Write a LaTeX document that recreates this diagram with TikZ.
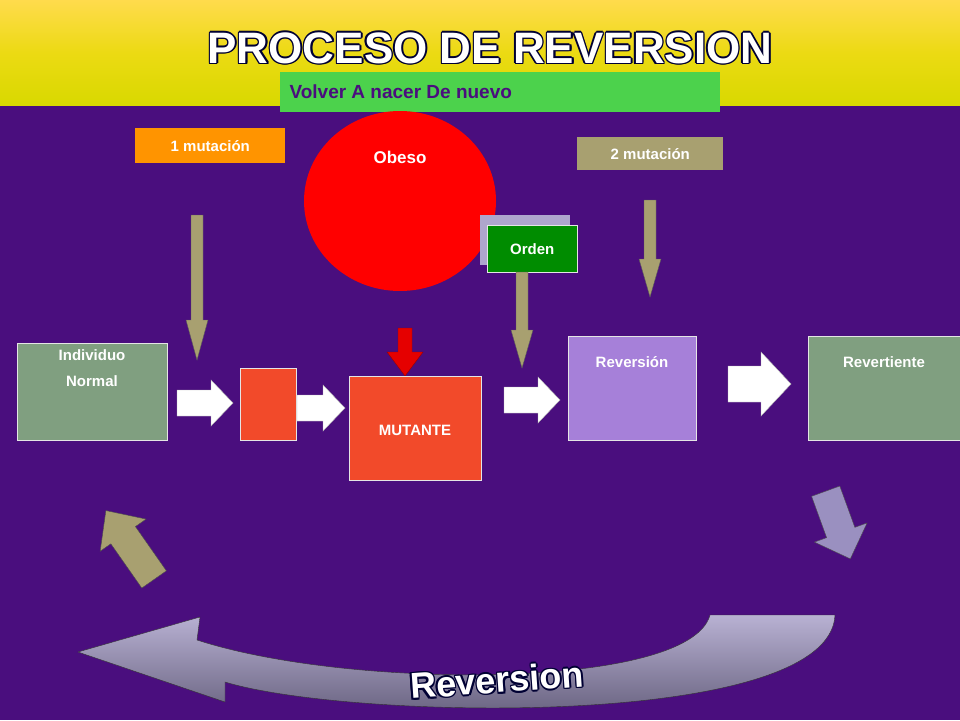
\documentclass[tikz,border=0pt]{standalone}
\usepackage{fontspec}
\setmainfont{Liberation Sans}
\usetikzlibrary{calc,shapes.geometric}
\definecolor{bgp}{HTML}{4A0E7E}
\definecolor{khaki}{HTML}{A8A070}
\definecolor{sage}{HTML}{809F80}
\definecolor{redb}{HTML}{F24A2A}
\definecolor{lav}{HTML}{9A90C0}
\tikzset{
 box/.style={draw=white!80!gray,line width=0.6pt,inner sep=0,anchor=north west},
 lbl/.style={font=\bfseries\fontsize{15}{18}\selectfont,text=white},
 warr/.style={draw=gray!60,fill=white},
 karr/.style={draw=gray!70!black,fill=khaki},
}
% right arrow: x0 x1 yc shaft-half head-half head-length
\newcommand{\rarr}[7]{\path[#7] (#1,#3-#4) -- (#2-#6,#3-#4) -- (#2-#6,#3-#5) -- (#2,#3) -- (#2-#6,#3+#5) -- (#2-#6,#3+#4) -- (#1,#3+#4) -- cycle;}
% down arrow: xc y0 y1 shaft-half head-half head-length
\newcommand{\darr}[7]{\path[#7] (#1-#4,#2) -- (#1+#4,#2) -- (#1+#4,#3-#6) -- (#1+#5,#3-#6) -- (#1,#3) -- (#1-#5,#3-#6) -- (#1-#4,#3-#6) -- cycle;}
\newcommand{\outl}[4]{%
 \foreach \dx/\dy in {-1.6/0,1.6/0,0/-1.6,0/1.6,-1.1/-1.1,1.1/1.1,-1.1/1.1,1.1/-1.1}
  {\node[text=black!80!blue,font=#3,#4] at ($(#1)+(\dx,\dy)$) {#2};}
 \node[text=white,font=#3,#4] at (#1) {#2};}
\begin{document}
\begin{tikzpicture}[x=1pt,y=-1pt]
\useasboundingbox (0,0) rectangle (960,720);
\fill[bgp] (0,0) rectangle (960,720);
\shade[top color=yellow!60!orange!70!white,bottom color=yellow!70!olive] (0,0) rectangle (960,105);
\coordinate (tt) at (490,48);
\outl{tt}{PROCESO DE REVERSION}{\bfseries\fontsize{44}{48}\selectfont}{}
\node[box,fill=green!75!black!70!white,draw=none,minimum width=440pt,minimum height=40pt] (volver) at (280,72) {};
\node[font=\bfseries\fontsize{19}{22}\selectfont,text=bgp,anchor=west] at (286,92) {Volver A nacer De nuevo};
\node[box,fill=orange!80!red!70!yellow,draw=none,minimum width=150pt,minimum height=35pt] (m1) at (135,128) {};
\node[lbl] at (m1.center) {1 mutación};
\node[fill=red,ellipse,minimum width=192pt,minimum height=180pt,inner sep=0] (obeso) at (400,201) {};
\node[lbl,font=\bfseries\fontsize{17}{20}\selectfont] at (400,157) {Obeso};
\node[box,fill=khaki,draw=none,minimum width=146pt,minimum height=33pt] (m2) at (577,137) {};
\node[lbl] at (m2.center) {2 mutación};
\fill[lav!80!white] (480,215) rectangle (570,265);
\node[box,fill=green!55!black,minimum width=90pt,minimum height=47pt] (orden) at (487,225) {};
\node[lbl] at (orden.center) {Orden};
% down arrows
\darr{197}{215}{360}{6}{11}{40}{karr}
\darr{650}{200}{297}{6}{11}{38}{karr}
\darr{522}{272}{368}{6}{11}{38}{karr}
\darr{405}{328}{376}{7}{18}{24}{draw=red!60!black,fill=red!90!black}
% boxes
\node[box,fill=sage,minimum width=150pt,minimum height=97pt] (ind) at (17,343) {};
\node[lbl,align=center,font=\bfseries\fontsize{15}{26}\selectfont] at (92,368) {Individuo\\Normal};
\node[box,fill=redb,minimum width=56pt,minimum height=72pt] (small) at (240,368) {};
\node[box,fill=redb,minimum width=132pt,minimum height=104pt] (mut) at (349,376) {};
\node[lbl] at (415,430) {MUTANTE};
\node[box,fill=purple!40!blue!50!white,minimum width=128pt,minimum height=104pt] (rev) at (568,336) {};
\node[lbl] at (632,362) {Reversión};
\node[box,fill=sage,minimum width=152pt,minimum height=104pt] (revt) at (808,336) {};
\node[lbl] at (884,362) {Revertiente};
% white arrows
\rarr{177}{233}{403}{13}{23}{22}{warr}
\rarr{297}{345}{408}{13}{23}{22}{warr}
\rarr{504}{560}{400}{13}{23}{22}{warr}
\rarr{728}{791}{384}{18}{32}{30}{warr}
% diagonal arrows
\begin{scope}[shift={(130,545)},rotate=125]
\rarr{-42}{42}{0}{15}{28}{30}{draw=gray!60!black,fill=khaki}
\end{scope}
\begin{scope}[shift={(838,525)},rotate=-70]
\rarr{-36}{36}{0}{15}{28}{28}{draw=gray!60!black,fill=lav}
\end{scope}
% big curved arrow
\shade[top color=lav!70!white,bottom color=lav!60!black,draw=gray!40!black]
 (835,615) .. controls (830,730) and (350,720) .. (225,682) -- (225,702) -- (78,652) -- (200,617) -- (197,640)
 .. controls (350,690) and (690,690) .. (710,615) -- cycle;
\coordinate (rv) at (497,680);
\outl{rv}{Reversion}{\bfseries\fontsize{36}{40}\selectfont}{rotate=4}
\end{tikzpicture}
\end{document}
